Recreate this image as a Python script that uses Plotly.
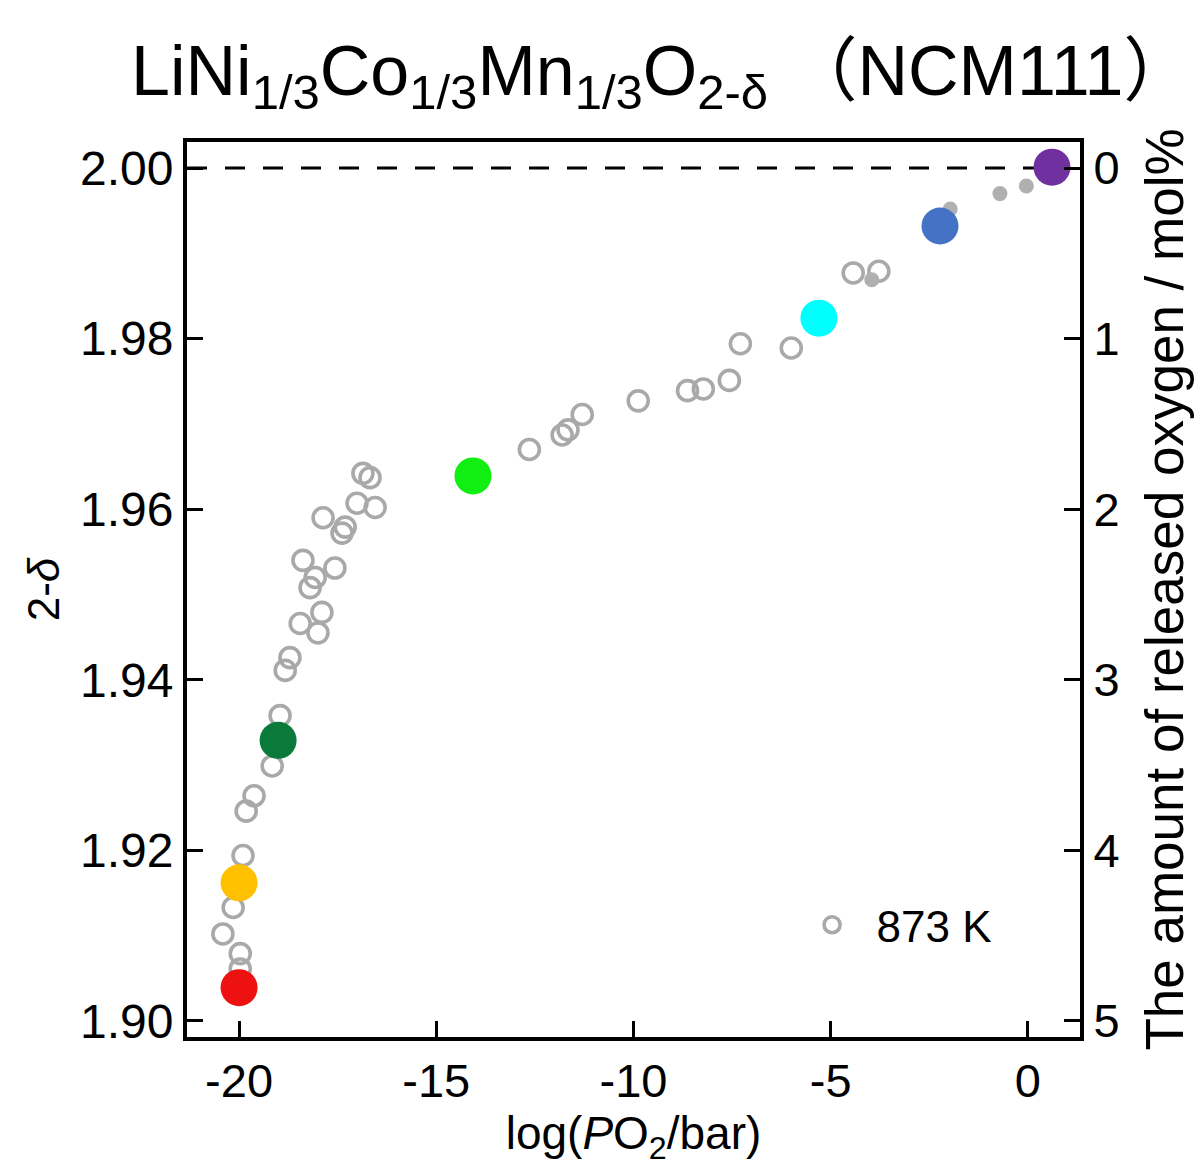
import plotly.graph_objects as go

# ---------------- data ----------------
open_x = [-20.41, -19.97, -19.97, -20.15, -19.90, -19.82, -19.62, -19.16, -18.96,
          -18.83, -18.71, -18.00, -18.45, -17.90, -18.20, -18.07, -17.57, -18.38,
          -17.39, -17.31, -17.87, -17.01, -16.55, -16.68, -16.86,
          -12.64, -11.81, -11.66, -11.30, -9.88, -8.63, -8.23, -7.57, -7.29,
          -6.00, -4.43, -3.78]
open_y = [1.9102, 1.9079, 1.9061, 1.9133, 1.9194, 1.9246, 1.9264, 1.9299, 1.9358,
          1.9411, 1.9426, 1.9455, 1.9466, 1.9479, 1.9508, 1.9520, 1.9531, 1.9540,
          1.9572, 1.9579, 1.9590, 1.9607, 1.9602, 1.9637, 1.9642,
          1.9670, 1.9687, 1.9693, 1.9711, 1.9727, 1.9739, 1.9741, 1.9751, 1.9794,
          1.9789, 1.9877, 1.9879]

small_x = [-3.96, -1.97, -0.71, -0.04]
small_y = [1.9869, 1.9952, 1.9970, 1.9979]

color_x = [-20.00, -20.00, -19.01, -14.07, -5.30, -2.23, 0.61]
color_y = [1.9039, 1.9162, 1.9329, 1.9639, 1.9824, 1.9932, 2.0001]
color_c = ["#ee1111", "#ffc000", "#0a7a3a", "#11ee11", "#00ffff", "#4472c4", "#7030a0"]

x_ticks = [-20, -15, -10, -5, 0]
y_ticks = [1.90, 1.92, 1.94, 1.96, 1.98, 2.00]
y_ticklabels = ["1.90", "1.92", "1.94", "1.96", "1.98", "2.00"]
r_ticks = [0, 1, 2, 3, 4, 5]

stoich = 2.00
x_range = [-21.32, 1.32]
y_range = [1.89812, 2.00305]
# released oxygen (mol%) = 50 * (2 - (2-delta))
r_range = [50 * (2 - y_range[0]), 50 * (2 - y_range[1])]

FONT = "Liberation Sans, Arial, Noto Sans CJK JP, sans-serif"

fig = go.Figure()

fig.add_trace(go.Scatter(
    x=open_x, y=open_y, mode="markers", name="\u00a0\u00a0873 K",
    marker=dict(symbol="circle-open", size=20, color="#a9a9a9",
                line=dict(width=3.6, color="#a9a9a9")),
    showlegend=True))

fig.add_trace(go.Scatter(
    x=small_x, y=small_y, mode="markers", showlegend=False,
    marker=dict(symbol="circle", size=15, color="#b0b0b0")))

fig.add_trace(go.Scatter(
    x=color_x, y=color_y, mode="markers", showlegend=False,
    marker=dict(symbol="circle", size=37, color=color_c, line=dict(width=0))))

# invisible trace to activate right axis
fig.add_trace(go.Scatter(x=[None], y=[None], yaxis="y2", showlegend=False))

# dashed line at stoichiometric 2.00
fig.add_shape(type="line", xref="x", yref="y",
              x0=x_range[0], x1=color_x[-1], y0=stoich, y1=stoich,
              line=dict(color="black", width=3, dash="20px,18px"), layer="below")

fig.update_layout(
    width=1204, height=1170,
    margin=dict(l=187, r=124, t=142, b=133),
    paper_bgcolor="white", plot_bgcolor="white",
    font=dict(family=FONT, color="black", size=47),
    title=dict(
        text="LiNi<sub>1/3</sub>Co<sub>1/3</sub>Mn<sub>1/3</sub>O<sub>2-δ</sub> （NCM111）",
        font=dict(family=FONT, size=70, color="black"),
        x=0.55, xref="container", xanchor="center",
        y=0.94, yref="container", yanchor="middle"),
    xaxis=dict(
        range=x_range, tickvals=x_ticks, ticktext=[str(v) for v in x_ticks],
        showgrid=False, zeroline=False,
        showline=True, linecolor="black", linewidth=4, mirror=True,
        ticks="inside", ticklen=16, tickwidth=3, tickcolor="black",
        tickfont=dict(size=47),
        title=dict(text="log(<i>P</i>O<sub>2</sub>/bar)", font=dict(size=46), standoff=6)),
    yaxis=dict(
        range=y_range, tickvals=y_ticks, ticktext=y_ticklabels,
        showgrid=False, zeroline=False,
        showline=True, linecolor="black", linewidth=4,
        ticks="inside", ticklen=16, tickwidth=3, tickcolor="black",
        tickfont=dict(size=48),
        title=dict(text="2-<i>δ</i>", font=dict(size=44), standoff=8)),
    yaxis2=dict(
        overlaying="y", side="right", range=r_range,
        tickvals=r_ticks, ticktext=[str(v) for v in r_ticks],
        showgrid=False, zeroline=False,
        showline=True, linecolor="black", linewidth=4,
        ticks="inside", ticklen=16, tickwidth=3, tickcolor="black",
        tickfont=dict(size=47),
        title=dict(text="The amount of released oxygen / mol%", font=dict(size=53), standoff=28)),
    legend=dict(x=0.70, y=0.125, xanchor="left", yanchor="middle",
                bgcolor="rgba(0,0,0,0)", font=dict(size=44), itemsizing="trace"),
    showlegend=True,
)

fig.write_html("out.html")
